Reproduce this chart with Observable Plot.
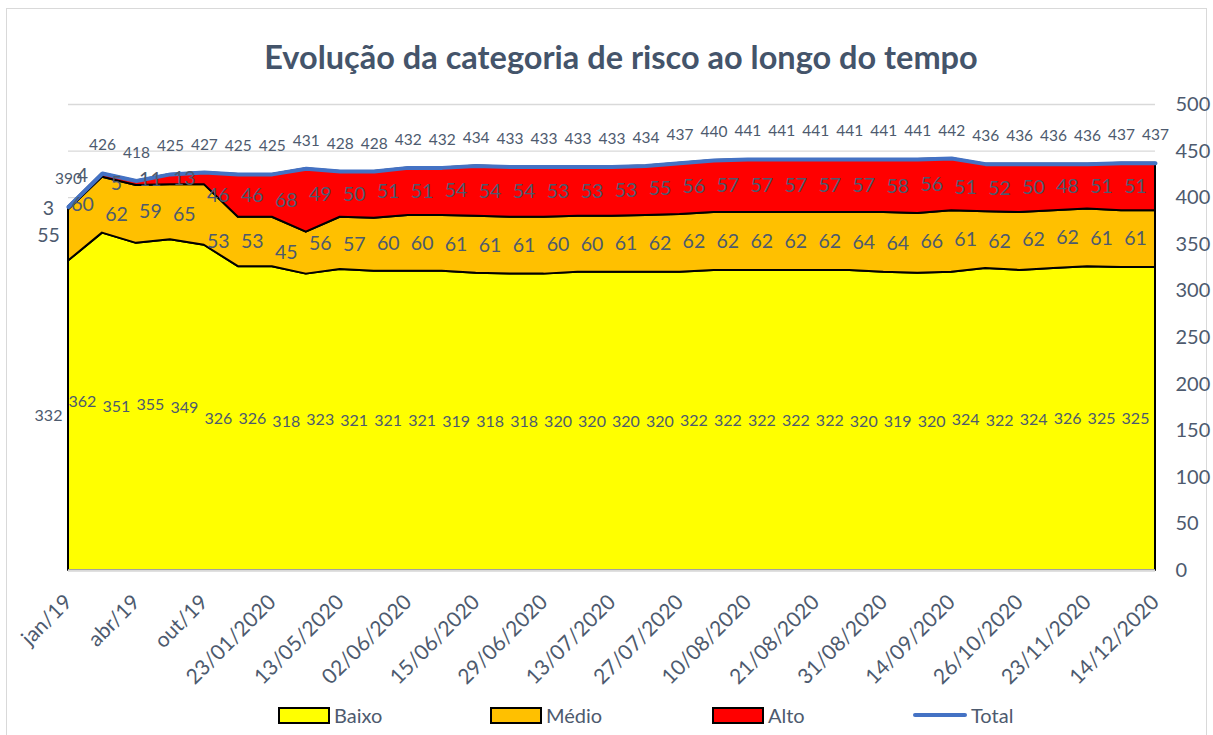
<!DOCTYPE html>
<html>
<head>
<meta charset="utf-8">
<script src="https://cdn.jsdelivr.net/npm/d3@7"></script>
<script src="https://cdn.jsdelivr.net/npm/@observablehq/plot@0.6"></script>
<style>
  body { margin: 0; background: #fff; font-family: Lato, sans-serif; }
  #wrap { position: relative; width: 1213px; height: 735px; overflow: hidden; background: #fff; }
  #border { position: absolute; left: 6px; top: 8px; width: 1201px; height: 760px; border: 1px solid #d9d9d9; box-sizing: border-box; }
  #title { position: absolute; top: 37px; left: 0; width: 1242px; text-align: center; font-weight: 700; font-size: 32.5px; color: #44546A; white-space: nowrap; }
  #chart { position: absolute; left: 0; top: 90px; }
  #chart svg { overflow: visible; }
  .lg { position: absolute; top: 703px; font-size: 20px; color: #4d5a6e; display: flex; align-items: center; height: 24px; }
  .sw { width: 48px; height: 13px; border: 2px solid #000; margin-right: 4px; }
  .ln { width: 54px; height: 4px; background: #4472C4; border-radius: 2px; margin-right: 4px; }
</style>
</head>
<body>
<div id="wrap">
  <div id="border"></div>
  <div id="title">Evolução da categoria de risco ao longo do tempo</div>
  <div id="chart"></div>
  <div id="legend"></div>
</div>
<script>
// Values (33 categories)
const baixo = [332,362,351,355,349,326,326,318,323,321,321,321,319,318,318,320,320,320,320,322,322,322,322,322,320,319,320,324,322,324,326,325,325];
const medio = [55,60,62,59,65,53,53,45,56,57,60,60,61,61,61,60,60,61,62,62,62,62,62,62,64,64,66,61,62,62,62,61,61];
const alto  = [3,4,5,11,13,46,46,68,49,50,51,51,54,54,54,53,53,53,55,56,57,57,57,57,57,58,56,51,52,50,48,51,51];
const total = [390,426,418,425,427,425,425,431,428,428,432,432,434,433,433,433,433,434,437,440,441,441,441,441,441,441,442,436,436,436,436,437,437];
// Visible category labels (every other category)
const xLabels = ["jan/19","abr/19","out/19","23/01/2020","13/05/2020","02/06/2020","15/06/2020","29/06/2020","13/07/2020","27/07/2020","10/08/2020","21/08/2020","31/08/2020","14/09/2020","26/10/2020","23/11/2020","14/12/2020"];
const yTicks = [0,50,100,150,200,250,300,350,400,450,500];
const seriesNames = ["Baixo","Médio","Alto","Total"];
const seriesColors = ["#FFFF00","#FFC000","#FF0000","#4472C4"];

const labelColor = "#4d5a6e";
const rows = baixo.map((b, i) => ({i, b, m: medio[i], a: alto[i], t: total[i]}));
const xTickVals = xLabels.map((_, k) => k * 2);

const chart = Plot.plot({
  width: 1213,
  height: 610,
  marginLeft: 68,
  marginRight: 58,
  marginTop: 14,
  marginBottom: 130,
  style: {fontFamily: "Lato, sans-serif", color: labelColor, background: "transparent"},
  x: {type: "linear", domain: [0, baixo.length - 1]},
  y: {domain: [0, 500]},
  marks: [
    Plot.gridY(yTicks, {stroke: "#d9d9d9", strokeOpacity: 1, strokeWidth: 1.3}),
    Plot.areaY(rows, {x: "i", y1: 0, y2: "b", fill: seriesColors[0], stroke: "#000", strokeWidth: 2, strokeLinejoin: "round"}),
    Plot.areaY(rows, {x: "i", y1: "b", y2: d => d.b + d.m, fill: seriesColors[1], stroke: "#000", strokeWidth: 2, strokeLinejoin: "round"}),
    Plot.areaY(rows, {x: "i", y1: d => d.b + d.m, y2: d => d.b + d.m + d.a, fill: seriesColors[2], stroke: "#000", strokeWidth: 2, strokeLinejoin: "round"}),
    Plot.ruleY([0], {stroke: "#d9d9d9", strokeWidth: 2.5}),
    Plot.line(rows, {x: "i", y: "t", stroke: seriesColors[3], strokeWidth: 4, strokeLinejoin: "round", strokeLinecap: "round"}),
    Plot.text(rows, {x: "i", y: d => d.b / 2, text: "b", dx: -20, fontSize: 16, fill: labelColor}),
    Plot.text(rows, {x: "i", y: d => d.b + d.m / 2, text: "m", dx: -20, fontSize: 19.5, fill: labelColor}),
    Plot.text(rows, {x: "i", y: d => d.b + d.m + d.a / 2, text: "a", dx: -20, fontSize: 19.5, fill: labelColor}),
    Plot.text(rows, {x: "i", y: "t", text: "t", dy: -28, fontSize: 15.5, fill: labelColor}),
    Plot.axisX(xTickVals, {tickFormat: v => xLabels[v / 2], tickRotate: -45, tickSize: 0, tickPadding: 28, fontSize: 21, label: null}),
    Plot.axisY(yTicks, {anchor: "right", tickSize: 0, tickPadding: 20, fontSize: 20, label: null, textAnchor: "start"})
  ]
});
document.getElementById("chart").appendChild(chart);

// Legend
const legendX = [278, 490, 712, 913];
const lg = document.getElementById("legend");
seriesNames.forEach((name, k) => {
  const item = document.createElement("div");
  item.className = "lg";
  item.style.left = legendX[k] + "px";
  const mark = document.createElement("div");
  if (name === "Total") { mark.className = "ln"; }
  else { mark.className = "sw"; mark.style.background = seriesColors[k]; }
  item.appendChild(mark);
  const t = document.createElement("span");
  t.textContent = name;
  item.appendChild(t);
  lg.appendChild(item);
});
</script>
</body>
</html>
